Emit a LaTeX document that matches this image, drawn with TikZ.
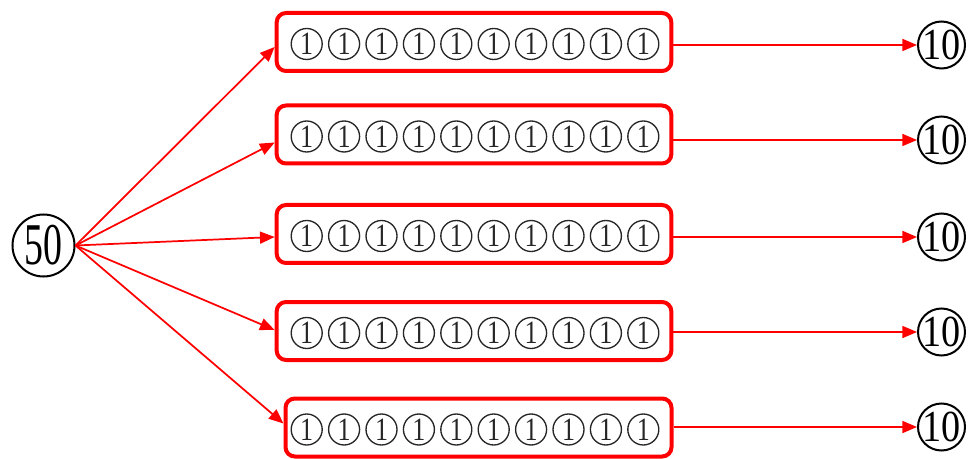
\documentclass[tikz,border=0pt]{standalone}
\usepackage{fontspec}
\setmainfont{Liberation Serif}
\usetikzlibrary{arrows.meta,calc}
\begin{document}
\begin{tikzpicture}[x=0.75pt,y=-0.75pt,
  redarrow/.style={draw=red, line width=1.3pt, -{Triangle[length=11pt,width=9pt]}},
  rowbox/.style={draw=red, line width=3pt, rounded corners=7pt, minimum height=43.5pt, inner sep=0pt},
  onec/.style={circle, draw=black!85, line width=1pt, minimum size=23.25pt, inner sep=0pt,
    label={[font=\fontsize{24.4}{24.4}\selectfont, inner sep=0pt, text=black!85]center:\scalebox{0.8}[1]{1}}},
  tenc/.style={circle, draw, line width=1.5pt, minimum size=35.25pt, inner sep=0pt,
    label={[font=\fontsize{33.3}{33.3}\selectfont, inner sep=0pt]center:\scalebox{0.86}[1]{10}}},
  fiftyc/.style={circle, draw, line width=1.5pt, minimum size=46.5pt, inner sep=0pt,
    label={[font=\fontsize{44.4}{44.4}\selectfont, inner sep=0pt]center:\scalebox{0.64}[1]{50}}}
]
\useasboundingbox (0,0) rectangle (969,459);

\node[fiftyc] (f) at (43.5,245.5) {};

\node[rowbox, minimum width=296pt] (b1) at (474,42) {};
\node[rowbox, minimum width=296pt] (b2) at (474,134.5) {};
\node[rowbox, minimum width=296pt] (b3) at (474,234) {};
\node[rowbox, minimum width=296pt] (b4) at (474,331) {};
\node[rowbox, minimum width=289.5pt] (b5) at (478.5,427.5) {};

\foreach \r/\y in {1/44,2/136.5,3/236,4/333,5/429.5}{
  \foreach \k in {0,...,9}{
    \node[onec] (o\r\k) at ({306.7+37.4*\k},\y) {};
  }
}

\node[tenc] (t1) at (941.5,45) {};
\node[tenc] (t2) at (941.5,140) {};
\node[tenc] (t3) at (941.5,237) {};
\node[tenc] (t4) at (941.5,332) {};
\node[tenc] (t5) at (941.5,427) {};

\draw[redarrow] (f.east) -- ($(b1.west)+(0,5)$);
\draw[redarrow] (f.east) -- ($(b2.west)+(0,8)$);
\draw[redarrow] (f.east) -- ($(b3.west)+(0,3)$);
\draw[redarrow] (f.east) -- ($(b4.west)+(0,-1)$);
\draw[redarrow] (f.east) -- ($(b5.west)+(0,-4)$);

\draw[redarrow] (t1 -| b1.east) -- (t1.west);
\draw[redarrow] (t2 -| b2.east) -- (t2.west);
\draw[redarrow] (t3 -| b3.east) -- (t3.west);
\draw[redarrow] (t4 -| b4.east) -- (t4.west);
\draw[redarrow] (t5 -| b5.east) -- (t5.west);
\end{tikzpicture}
\end{document}
